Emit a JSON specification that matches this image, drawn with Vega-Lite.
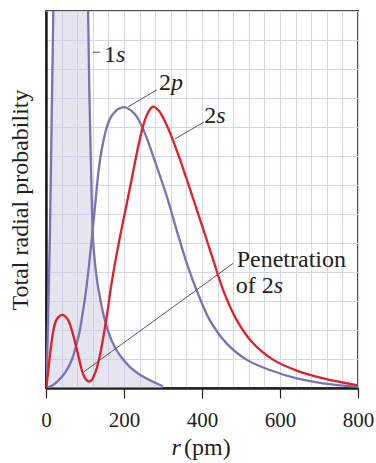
{
  "$schema": "https://vega.github.io/schema/vega-lite/v6.json",
  "width": 312,
  "height": 377,
  "autosize": {"type": "none"},
  "padding": {"left": 46, "top": 11, "right": 18, "bottom": 75},
  "background": "white",
  "config": {
    "font": "Liberation Serif",
    "view": {"stroke": "#4d4d4d", "strokeWidth": 2}
  },
  "datasets": {
    "curves": [
      {"orb": "1s", "r": 0, "p": 0}, {"orb": "1s", "r": 3, "p": 1.0}, {"orb": "1s", "r": 6, "p": 2.8}, {"orb": "1s", "r": 10, "p": 5.3},
      {"orb": "1s", "r": 14, "p": 8.8}, {"orb": "1s", "r": 19, "p": 13.2}, {"orb": "1s", "r": 25, "p": 18}, {"orb": "1s", "r": 40, "p": 26},
      {"orb": "1s", "r": 60, "p": 30}, {"orb": "1s", "r": 80, "p": 26}, {"orb": "1s", "r": 95, "p": 19}, {"orb": "1s", "r": 108, "p": 13},
      {"orb": "1s", "r": 111, "p": 10.3}, {"orb": "1s", "r": 115, "p": 7.9}, {"orb": "1s", "r": 119, "p": 5.6}, {"orb": "1s", "r": 125, "p": 4.4},
      {"orb": "1s", "r": 131, "p": 3.7}, {"orb": "1s", "r": 138, "p": 3.15}, {"orb": "1s", "r": 147, "p": 2.55}, {"orb": "1s", "r": 156, "p": 2.1},
      {"orb": "1s", "r": 168, "p": 1.65}, {"orb": "1s", "r": 181, "p": 1.3}, {"orb": "1s", "r": 198, "p": 0.98}, {"orb": "1s", "r": 215, "p": 0.73},
      {"orb": "1s", "r": 236, "p": 0.5}, {"orb": "1s", "r": 258, "p": 0.33}, {"orb": "1s", "r": 280, "p": 0.18}, {"orb": "1s", "r": 300, "p": 0.06},

      {"orb": "2p", "r": 0, "p": 0}, {"orb": "2p", "r": 15, "p": 0.08}, {"orb": "2p", "r": 29, "p": 0.22}, {"orb": "2p", "r": 50, "p": 0.55},
      {"orb": "2p", "r": 67, "p": 1.0}, {"orb": "2p", "r": 80, "p": 1.6}, {"orb": "2p", "r": 87, "p": 2.0}, {"orb": "2p", "r": 93, "p": 2.5},
      {"orb": "2p", "r": 102, "p": 3.3}, {"orb": "2p", "r": 110, "p": 4.2}, {"orb": "2p", "r": 117, "p": 5.1}, {"orb": "2p", "r": 125.6, "p": 6.25},
      {"orb": "2p", "r": 134, "p": 7.4}, {"orb": "2p", "r": 140, "p": 8.0}, {"orb": "2p", "r": 147, "p": 8.5}, {"orb": "2p", "r": 155, "p": 8.95},
      {"orb": "2p", "r": 164, "p": 9.28}, {"orb": "2p", "r": 175, "p": 9.5}, {"orb": "2p", "r": 185, "p": 9.62}, {"orb": "2p", "r": 203, "p": 9.68},
      {"orb": "2p", "r": 220, "p": 9.55}, {"orb": "2p", "r": 233, "p": 9.35}, {"orb": "2p", "r": 250, "p": 8.9}, {"orb": "2p", "r": 267, "p": 8.3},
      {"orb": "2p", "r": 290, "p": 7.4}, {"orb": "2p", "r": 310, "p": 6.6}, {"orb": "2p", "r": 337, "p": 5.35}, {"orb": "2p", "r": 361, "p": 4.3},
      {"orb": "2p", "r": 386, "p": 3.38}, {"orb": "2p", "r": 420, "p": 2.34}, {"orb": "2p", "r": 463, "p": 1.54}, {"orb": "2p", "r": 515, "p": 0.97},
      {"orb": "2p", "r": 574, "p": 0.62}, {"orb": "2p", "r": 643, "p": 0.33}, {"orb": "2p", "r": 711, "p": 0.16}, {"orb": "2p", "r": 800, "p": 0.04},

      {"orb": "2s", "r": 0, "p": 0}, {"orb": "2s", "r": 5, "p": 0.5}, {"orb": "2s", "r": 12, "p": 1.35}, {"orb": "2s", "r": 20, "p": 2.05},
      {"orb": "2s", "r": 28, "p": 2.38}, {"orb": "2s", "r": 42, "p": 2.52}, {"orb": "2s", "r": 55, "p": 2.38}, {"orb": "2s", "r": 65, "p": 2.05},
      {"orb": "2s", "r": 73, "p": 1.65}, {"orb": "2s", "r": 80, "p": 1.28}, {"orb": "2s", "r": 87, "p": 0.88}, {"orb": "2s", "r": 94, "p": 0.52},
      {"orb": "2s", "r": 101, "p": 0.32}, {"orb": "2s", "r": 110, "p": 0.22}, {"orb": "2s", "r": 117, "p": 0.27}, {"orb": "2s", "r": 123, "p": 0.42},
      {"orb": "2s", "r": 130, "p": 0.68}, {"orb": "2s", "r": 136, "p": 0.99}, {"orb": "2s", "r": 143, "p": 1.45}, {"orb": "2s", "r": 149, "p": 1.92},
      {"orb": "2s", "r": 156, "p": 2.5}, {"orb": "2s", "r": 168, "p": 3.6}, {"orb": "2s", "r": 181, "p": 4.6}, {"orb": "2s", "r": 194, "p": 5.5},
      {"orb": "2s", "r": 207, "p": 6.35}, {"orb": "2s", "r": 224, "p": 7.5}, {"orb": "2s", "r": 241, "p": 8.6}, {"orb": "2s", "r": 258, "p": 9.4},
      {"orb": "2s", "r": 274, "p": 9.7}, {"orb": "2s", "r": 288, "p": 9.58}, {"orb": "2s", "r": 301, "p": 9.3}, {"orb": "2s", "r": 318, "p": 8.8},
      {"orb": "2s", "r": 335, "p": 8.2}, {"orb": "2s", "r": 352, "p": 7.55}, {"orb": "2s", "r": 378, "p": 6.5}, {"orb": "2s", "r": 405, "p": 5.4},
      {"orb": "2s", "r": 429, "p": 4.4}, {"orb": "2s", "r": 455, "p": 3.35}, {"orb": "2s", "r": 489, "p": 2.34}, {"orb": "2s", "r": 531, "p": 1.54},
      {"orb": "2s", "r": 583, "p": 0.97}, {"orb": "2s", "r": 643, "p": 0.6}, {"orb": "2s", "r": 711, "p": 0.33}, {"orb": "2s", "r": 800, "p": 0.09}
    ],
    "leaders": [
      {"r": 120, "p": 11.58, "r2": 139, "p2": 11.58},
      {"r": 211, "p": 9.7, "r2": 284, "p2": 10.28},
      {"r": 331, "p": 8.59, "r2": 405, "p2": 9.17},
      {"r": 97, "p": 0.56, "r2": 480, "p2": 4.3}
    ],
    "labels": [
      {"kind": "num", "txt": "1", "r": 179.5, "p": 11.25},
      {"kind": "var", "txt": "s", "r": 179.5, "p": 11.25},
      {"kind": "num", "txt": "2", "r": 320.5, "p": 10.28},
      {"kind": "var", "txt": "p", "r": 320.5, "p": 10.28},
      {"kind": "num", "txt": "2", "r": 436.7, "p": 9.15},
      {"kind": "var", "txt": "s", "r": 436.7, "p": 9.15},
      {"kind": "word", "txt": "Penetration", "r": 489, "p": 4.18},
      {"kind": "num", "txt": "of 2", "r": 583.8, "p": 3.27},
      {"kind": "var", "txt": "s", "r": 583.8, "p": 3.27},
      {"kind": "var", "txt": "r", "r": 322, "p": -2.31},
      {"kind": "word", "txt": "(pm)", "r": 353.8, "p": -2.31}
    ]
  },
  "encoding": {
    "x": {
      "field": "r", "type": "quantitative",
      "scale": {"domain": [0, 800], "nice": false},
      "axis": {
        "title": null,
        "values": [0, 40, 80, 120, 160, 200, 240, 280, 320, 360, 400, 440, 480, 520, 560, 600, 640, 680, 720, 760, 800],
        "grid": true, "gridColor": "#d3d7ec", "gridWidth": 1,
        "domainColor": "#231f20", "domainWidth": 2.5,
        "tickColor": "#231f20", "tickWidth": 1.2, "tickSize": 10,
        "tickOpacity": {"condition": {"test": "datum.value % 200 !== 0", "value": 0}, "value": 1},
        "labelExpr": "datum.value % 200 === 0 ? datum.label : ''",
        "labelFontSize": 21, "labelColor": "#231f20", "labelPadding": 11,
        "labelFlush": false, "labelOverlap": false
      }
    },
    "y": {
      "field": "p", "type": "quantitative",
      "scale": {"domain": [0, 13], "nice": false},
      "axis": {
        "title": "Total radial probability",
        "values": [0, 1, 2, 3, 4, 5, 6, 7, 8, 9, 10, 11, 12, 13],
        "grid": true, "gridColor": "#d3d7ec", "gridWidth": 1,
        "labels": false, "ticks": false,
        "domainColor": "#231f20", "domainWidth": 2.5,
        "titleFontSize": 24, "titleFontWeight": "normal", "titleColor": "#231f20",
        "titlePadding": 14
      }
    }
  },
  "layer": [
    {
      "data": {"name": "curves"},
      "transform": [{"filter": "datum.orb === '1s'"}],
      "mark": {"type": "area", "clip": true, "interpolate": "monotone", "color": "#c9cce0", "opacity": 0.5}
    },
    {
      "data": {"name": "curves"},
      "transform": [{"filter": "datum.orb === '1s'"}],
      "mark": {"type": "line", "clip": true, "interpolate": "monotone", "color": "#7773b4", "strokeWidth": 2.3}
    },
    {
      "data": {"name": "curves"},
      "transform": [{"filter": "datum.orb === '2p'"}],
      "mark": {"type": "line", "clip": true, "interpolate": "catmull-rom", "color": "#7773b4", "strokeWidth": 2.3}
    },
    {
      "data": {"name": "curves"},
      "transform": [{"filter": "datum.orb === '2s'"}],
      "mark": {"type": "line", "clip": true, "interpolate": "catmull-rom", "color": "#e31e26", "strokeWidth": 2.3}
    },
    {
      "data": {"name": "leaders"},
      "mark": {"type": "rule", "color": "#555555", "strokeWidth": 1},
      "encoding": {"x2": {"field": "r2"}, "y2": {"field": "p2"}}
    },
    {
      "data": {"name": "labels"},
      "transform": [{"filter": "datum.kind === 'num'"}],
      "mark": {"type": "text", "align": "right", "baseline": "alphabetic", "fontSize": 24, "color": "#231f20"},
      "encoding": {"text": {"field": "txt"}}
    },
    {
      "data": {"name": "labels"},
      "transform": [{"filter": "datum.kind === 'var'"}],
      "mark": {"type": "text", "align": "left", "baseline": "alphabetic", "fontSize": 24, "fontStyle": "italic", "color": "#231f20"},
      "encoding": {"text": {"field": "txt"}}
    },
    {
      "data": {"name": "labels"},
      "transform": [{"filter": "datum.kind === 'word'"}],
      "mark": {"type": "text", "align": "left", "baseline": "alphabetic", "fontSize": 24, "color": "#231f20"},
      "encoding": {"text": {"field": "txt"}}
    }
  ]
}
